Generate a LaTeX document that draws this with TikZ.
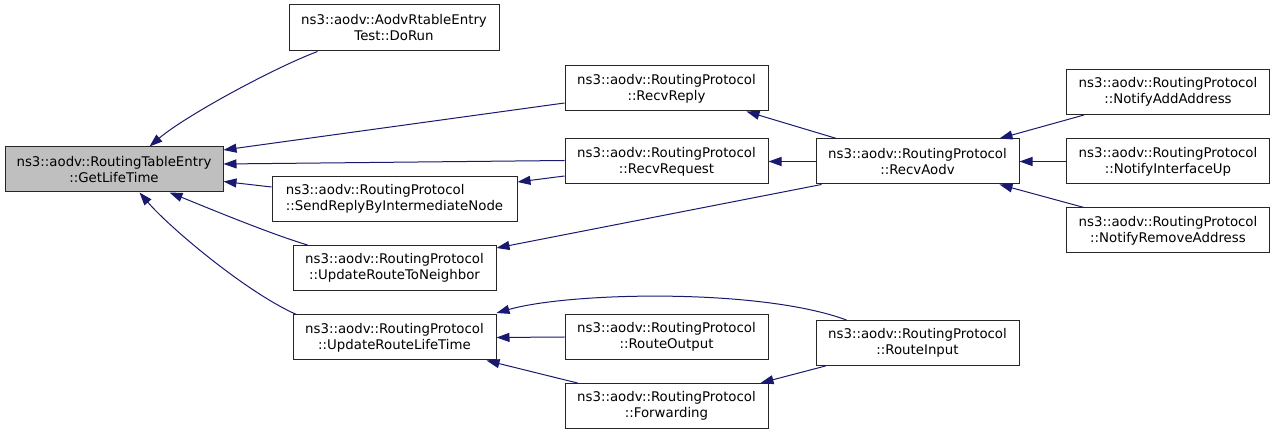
\documentclass[tikz,border=0pt]{standalone}
\usepackage{fontspec}
\setmainfont{DejaVu Sans}
\usetikzlibrary{arrows.meta}
\definecolor{edgec}{RGB}{25,25,112}
\definecolor{gfill}{RGB}{191,191,191}
\begin{document}
\begin{tikzpicture}[x=1pt,y=-1pt,
  box/.style={draw=black!85, line width=1pt, inner sep=0pt, align=center,
    font=\fontsize{13.33}{16}\selectfont, minimum height=45pt, minimum width=203pt},
  e/.style={draw=edgec, line width=1pt, -{Triangle[length=13pt,width=9pt]}, edgec}]
\useasboundingbox (0,0) rectangle (1275,435);
\fill[white] (0,0) rectangle (1275,435);
% nodes
\node[box, fill=gfill, minimum width=218pt] (glt) at (114,169.5) {ns3::aodv::RoutingTableEntry\\::GetLifeTime};
\node[box, minimum width=210pt, minimum height=46pt] (dorun) at (394,28) {ns3::aodv::AodvRtableEntry\\Test::DoRun};
\node[box] (rrep) at (666.5,88.5) {ns3::aodv::RoutingProtocol\\::RecvReply};
\node[box] (rreq) at (666.5,161.5) {ns3::aodv::RoutingProtocol\\::RecvRequest};
\node[box, minimum width=245pt, align=left] (sr) at (394.5,199) {ns3::aodv::RoutingProtocol\\::SendReplyByIntermediateNode};
\node[box] (updn) at (394.5,268) {ns3::aodv::RoutingProtocol\\::UpdateRouteToNeighbor};
\node[box] (updl) at (394.5,337.5) {ns3::aodv::RoutingProtocol\\::UpdateRouteLifeTime};
\node[box] (rout) at (666.5,337) {ns3::aodv::RoutingProtocol\\::RouteOutput};
\node[box] (fwd) at (666.5,406) {ns3::aodv::RoutingProtocol\\::Forwarding};
\node[box] (rin) at (917.5,343) {ns3::aodv::RoutingProtocol\\::RouteInput};
\node[box] (aodv) at (917.5,161.5) {ns3::aodv::RoutingProtocol\\::RecvAodv};
\node[box] (nadd) at (1168,92) {ns3::aodv::RoutingProtocol\\::NotifyAddAddress};
\node[box] (nif) at (1168,161.5) {ns3::aodv::RoutingProtocol\\::NotifyInterfaceUp};
\node[box] (nrem) at (1168,230.5) {ns3::aodv::RoutingProtocol\\::NotifyRemoveAddress};
% edges
\draw[e] ([xshift=29pt]dorun.south west) .. controls +(-45,17) and +(35,-30) .. ([xshift=145pt]glt.north west);
\draw[e] ([yshift=-14.5pt]rrep.west) -- ([yshift=19.5pt]glt.east);
\draw[e] ([yshift=1pt]rreq.west) -- ([yshift=5.5pt]glt.east);
\draw[e] ([yshift=12pt]sr.west) -- ([yshift=-12pt]glt.east);
\draw[e] ([xshift=15pt]updn.north west) .. controls +(-40,-12) and +(30,12) .. ([xshift=165pt]glt.south west);
\draw[e] ([xshift=4pt]updl.north west) .. controls +(-50,-22) and +(30,35) .. ([xshift=135pt]glt.south west);
\draw[e] ([yshift=-14.5pt]rreq.west) -- ([yshift=17pt]sr.east);
\draw[e] ([xshift=21pt]aodv.north west) -- ([xshift=-22pt]rrep.south east);
\draw[e] (aodv.west) -- (rreq.east);
\draw[e] ([xshift=6pt]aodv.south west) -- ([yshift=20pt]updn.east);
\draw[e] ([xshift=18pt]nadd.south west) -- ([xshift=-20pt]aodv.north east);
\draw[e] (nif.west) -- (aodv.east);
\draw[e] ([xshift=18pt]nrem.north west) -- ([xshift=-20pt]aodv.south east);
\draw[e] ([xshift=31pt]rin.north west) .. controls (760,288) and (570,292) .. ([yshift=24.5pt]updl.east);
\draw[e] (rout.west) -- (updl.east);
\draw[e] ([xshift=13pt]fwd.north west) -- ([xshift=-10pt]updl.south east);
\draw[e] ([xshift=10pt]rin.south west) -- ([xshift=-8pt]fwd.north east);
\end{tikzpicture}
\end{document}
